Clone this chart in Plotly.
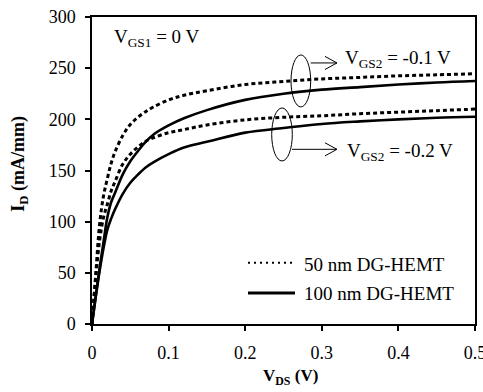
import plotly.graph_objects as go

# ---------------- data ----------------
vds = [0, 0.005, 0.01, 0.015, 0.02, 0.025, 0.03, 0.04, 0.05, 0.06, 0.07, 0.08,
       0.1, 0.12, 0.15, 0.2, 0.25, 0.3, 0.35, 0.4, 0.45, 0.5]

id_50nm_m01 = [0, 50, 98, 125, 142, 157, 168, 184, 195, 202, 207.5, 212,
               219, 223.5, 228, 234, 237, 239.5, 241, 242.5, 243.5, 244.5]
id_50nm_m02 = [0, 46, 82, 104, 117, 130, 139, 156, 166, 173, 178.5, 182,
               187, 190, 194.5, 199.5, 202, 203.5, 205.5, 207, 208.5, 210]
id_100nm_m01 = [0, 28, 55, 80, 104, 119, 128, 146, 159, 169, 178, 185,
                194, 201, 209, 219, 225, 229, 231.5, 234, 236, 237.5]
id_100nm_m02 = [0, 27, 52, 74, 92, 103, 112, 127, 138, 146, 153, 158,
                166, 172.5, 178, 187, 191.5, 195.5, 198, 200, 201.5, 202.5]

x_ticks = [0, 0.1, 0.2, 0.3, 0.4, 0.5]
x_tick_labels = ["0", "0.1", "0.2", "0.3", "0.4", "0.5"]
y_ticks = [0, 50, 100, 150, 200, 250, 300]
y_tick_labels = ["0", "50", "100", "150", "200", "250", "300"]

legend_names = ["50 nm DG-HEMT", "100 nm DG-HEMT"]
label_vgs1 = "V<sub>GS1</sub> = 0 V"
label_vgs2_a = "V<sub>GS2</sub> = -0.1 V"
label_vgs2_b = "V<sub>GS2</sub> = -0.2 V"

# ellipse callouts (data coords): x0, x1, y0, y1
ellipse_a = [0.2598, 0.2855, 212.1, 262.9]
ellipse_b = [0.2346, 0.2615, 159.3, 211.1]
# arrows: x start, x end, y
arrow_a = [0.2855, 0.3198, 255.1]
arrow_b = [0.2611, 0.3198, 170.7]

FONT = "'Liberation Serif', 'Times New Roman', Tinos, serif"

fig = go.Figure()

dot_style = dict(color="black", width=3, dash="4px,3px")
solid_style = dict(color="black", width=2.6)

fig.add_trace(go.Scatter(x=vds, y=id_50nm_m01, mode="lines", line=dot_style,
                         line_shape="spline", showlegend=False))
fig.add_trace(go.Scatter(x=vds, y=id_50nm_m02, mode="lines", line=dot_style,
                         line_shape="spline", showlegend=False))
fig.add_trace(go.Scatter(x=vds, y=id_100nm_m01, mode="lines", line=solid_style,
                         line_shape="spline", showlegend=False))
fig.add_trace(go.Scatter(x=vds, y=id_100nm_m02, mode="lines", line=solid_style,
                         line_shape="spline", showlegend=False))

shapes = []
for e in (ellipse_a, ellipse_b):
    shapes.append(dict(type="circle", xref="x", yref="y", x0=e[0], x1=e[1],
                       y0=e[2], y1=e[3], line=dict(color="black", width=1)))
for a in (arrow_a, arrow_b):
    hx = 0.0157
    hy = 6.4
    path = (f"M {a[0]} {a[2]} L {a[1]} {a[2]} "
            f"M {a[1]-hx} {a[2]+hy} L {a[1]} {a[2]} L {a[1]-hx} {a[2]-hy}")
    shapes.append(dict(type="path", xref="x", yref="y", path=path,
                       line=dict(color="black", width=1)))

# manual legend
leg_y = [0.1997, 0.101]
shapes.append(dict(type="line", xref="paper", yref="paper", x0=0.4073, x1=0.530,
                   y0=leg_y[0], y1=leg_y[0],
                   line=dict(color="black", width=2, dash="2px,4px")))
shapes.append(dict(type="line", xref="paper", yref="paper", x0=0.4073, x1=0.530,
                   y0=leg_y[1], y1=leg_y[1],
                   line=dict(color="black", width=3)))

annotations = [
    dict(text=legend_names[0], x=0.548, y=0.195, xref="paper", yref="paper",
         xanchor="left", yanchor="middle", showarrow=False,
         font=dict(family=FONT, size=19, color="black")),
    dict(text=legend_names[1], x=0.548, y=0.098, xref="paper", yref="paper",
         xanchor="left", yanchor="middle", showarrow=False,
         font=dict(family=FONT, size=19, color="black")),
    dict(text=label_vgs1, x=0.0514, y=0.931, xref="paper", yref="paper",
         xanchor="left", yanchor="middle", showarrow=False,
         font=dict(family=FONT, size=19, color="black")),
    dict(text=label_vgs2_a, x=0.655, y=0.863, xref="paper", yref="paper",
         xanchor="left", yanchor="middle", showarrow=False,
         font=dict(family=FONT, size=19, color="black")),
    dict(text=label_vgs2_b, x=0.661, y=0.559, xref="paper", yref="paper",
         xanchor="left", yanchor="middle", showarrow=False,
         font=dict(family=FONT, size=19, color="black")),
    dict(text="<b>I<sub>D</sub> (mA/mm)</b>", x=-0.19, y=0.523, xref="paper",
         yref="paper", xanchor="center", yanchor="middle", textangle=-90,
         showarrow=False, font=dict(family=FONT, size=18, color="black")),
    dict(text="<b>V<sub>DS</sub> (V)</b>", x=0.517, y=-0.172, xref="paper",
         yref="paper", xanchor="center", yanchor="middle", showarrow=False,
         font=dict(family=FONT, size=17, color="black")),
]

axis_common = dict(showgrid=False, zeroline=False, showline=True, linecolor="black",
                   linewidth=1.5, mirror=True, ticks="outside", ticklen=5,
                   tickwidth=1.5, tickcolor="black", ticklabeloverflow="allow",
                   automargin=False,
                   tickfont=dict(family=FONT, size=18, color="black"))

fig.update_layout(
    width=483, height=392,
    margin=dict(l=92, r=8, t=17, b=68),
    plot_bgcolor="white", paper_bgcolor="white",
    font=dict(family=FONT, color="black"),
    xaxis=dict(range=[0, 0.5], tickvals=x_ticks, ticktext=x_tick_labels,
               ticklabelstandoff=7, **axis_common),
    yaxis=dict(range=[0, 300], tickvals=y_ticks, ticktext=y_tick_labels,
               ticklabelstandoff=6, **axis_common),
    shapes=shapes, annotations=annotations, showlegend=False,
)

fig.write_html("out.html")
